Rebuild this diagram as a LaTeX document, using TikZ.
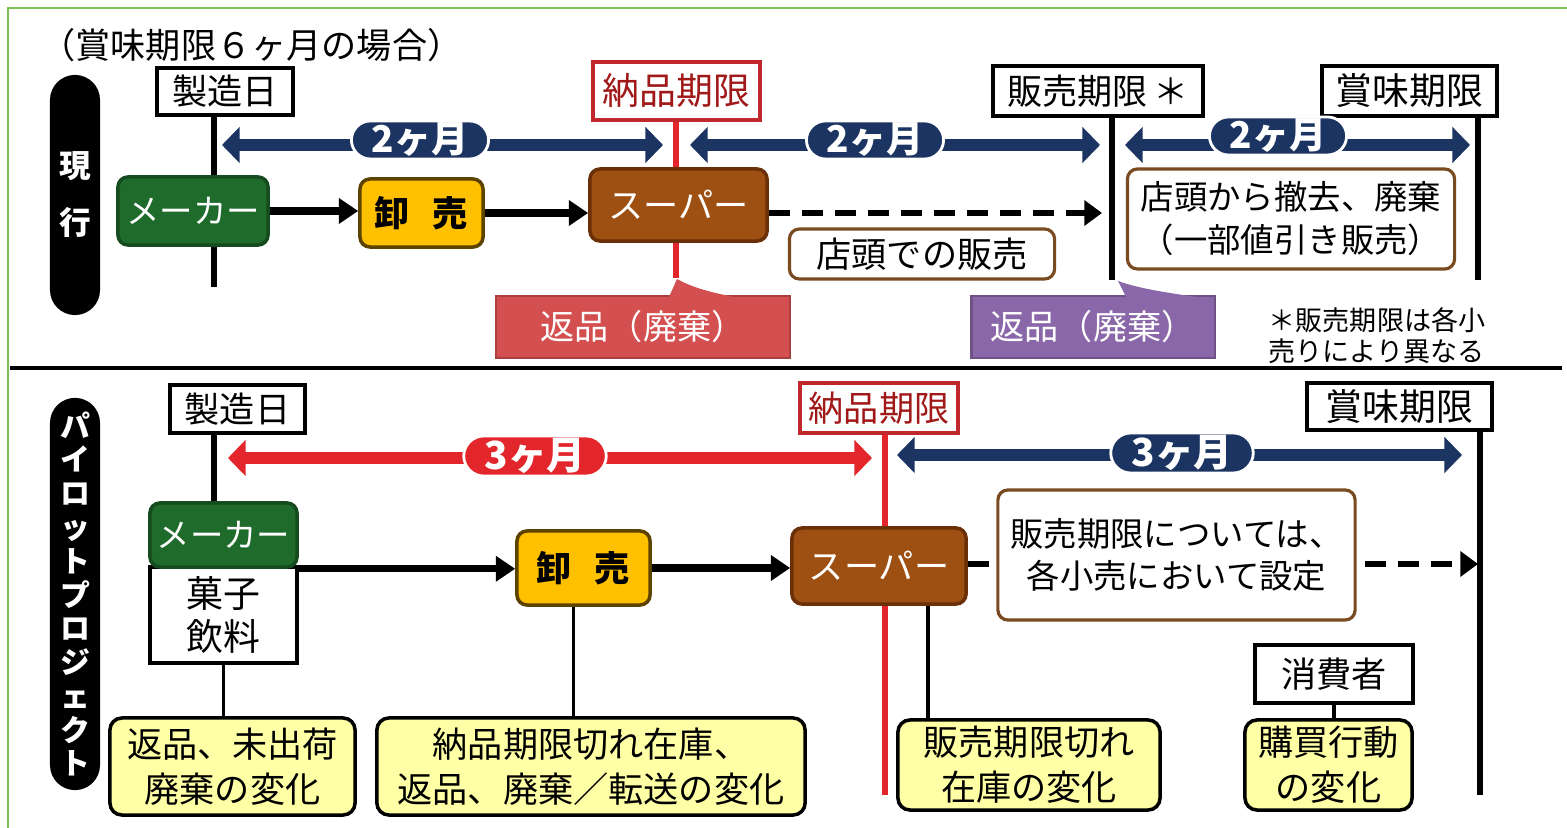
\documentclass[tikz,border=0pt]{standalone}
\usepackage{fontspec}
\setmainfont{Noto Sans CJK JP}
\usetikzlibrary{arrows.meta,shapes.misc}
\definecolor{navy}{HTML}{1B3461}
\definecolor{mgreen}{HTML}{1E6B2B}
\definecolor{myellow}{HTML}{FFC000}
\definecolor{ybord}{HTML}{5C4300}
\definecolor{mbrown}{HTML}{9E4F12}
\definecolor{bbord}{HTML}{6B3008}
\definecolor{lred}{HTML}{E3262B}
\definecolor{nred}{HTML}{C0282D}
\definecolor{ntext}{HTML}{A01818}
\definecolor{hred}{HTML}{D44F4F}
\definecolor{hpurple}{HTML}{8A67A8}
\definecolor{lyellow}{HTML}{FFFFA6}
\definecolor{frame}{HTML}{7CBF52}
\definecolor{sbord}{HTML}{7A4A20}
\begin{document}
\begin{tikzpicture}[x=0.01cm,y=-0.01cm,
  wh/.style 2 args={minimum width=#1cm, minimum height=#2cm},
  tl/.style={draw=black, line width=1.3pt, fill=white, inner sep=0pt, font=\fontsize{10}{12}\selectfont},
  tlred/.style={tl, draw=nred, text=ntext},
  tline/.style={line width=1.8pt},
  rline/.style={line width=1.8pt, draw=lred},
  pill/.style={fill=black, rounded corners=0.25cm, text=white, align=center, inner sep=0pt},
  mpill/.style={rounded rectangle, fill=navy, draw=white, line width=0.8pt, text=white,
     font=\bfseries\fontsize{10.5}{12}\selectfont, minimum height=0.38cm, inner xsep=0.1cm, inner ysep=0pt},
  span/.style={draw=navy, line width=3.4pt, {Triangle[width=10pt,length=5pt]}-{Triangle[width=10pt,length=5pt]}},
  flowbox/.style={rounded corners=0.1cm, line width=1pt, inner sep=0pt, font=\fontsize{9.5}{12}\selectfont},
  maker/.style={flowbox, fill=mgreen, draw=mgreen!70!black, text=white},
  oroshi/.style={flowbox, fill=myellow, draw=ybord, text=black, font=\bfseries\fontsize{10}{12}\selectfont},
  superbox/.style={flowbox, fill=mbrown, draw=bbord, text=white, font=\fontsize{10}{12}\selectfont},
  flow/.style={line width=2pt, -{Triangle[width=7pt,length=5.5pt]}},
  dflow/.style={line width=1.7pt, dash pattern=on 6pt off 3.4pt, -{Triangle[width=7pt,length=5pt]}},
  note/.style={rounded corners=0.1cm, draw=sbord, line width=0.9pt, fill=white, inner sep=0pt, align=center},
  ybox/.style={rounded corners=0.12cm, draw=black, line width=1pt, fill=lyellow, inner sep=0pt, align=center, font=\fontsize{10}{12.8}\selectfont},
  conn/.style={line width=0.9pt}
]
\useasboundingbox (0,0) rectangle (1567,828);
\fill[white] (0,0) rectangle (1567,828);
% frame
\coordinate (fr1) at (8,828); \coordinate (fr2) at (8,8); \coordinate (fr3) at (1567,8);
\draw[frame, line width=0.8pt] (fr1) -- (fr2) -- (fr3);

% ===== top section =====
\node[anchor=west, font=\fontsize{10}{11}\selectfont] (title) at (28,45) {（賞味期限６ヶ月の場合）};
\node[pill, wh={0.5}{2.4}, font=\bfseries\fontsize{9}{16.2}\selectfont] (pill1) at (75,195) {現\\行};

\node[tl, wh={1.36}{0.47}] (mfg1) at (225,91.5) {製造日};
\node[tlred, wh={1.67}{0.58}, font=\fontsize{10.5}{12}\selectfont] (nohin1) at (676.5,91) {納品期限};
\node[tl, wh={2.10}{0.50}] (han1) at (1098,91) {販売期限\,＊};
\node[tl, wh={1.75}{0.50}, font=\fontsize{10.5}{12}\selectfont] (shomi1) at (1409.5,91) {賞味期限};

\coordinate (t1) at (214,287);
\coordinate (t2) at (676,278);
\coordinate (t3) at (1112,280);
\coordinate (t4) at (1478,280);
\draw[tline] (mfg1.south -| t1) -- (t1);
\draw[rline] (nohin1.south -| t2) -- (t2);
\draw[tline] (han1.south -| t3) -- (t3);
\draw[tline] (shomi1.south -| t4) -- (t4);

\coordinate (a1l) at (222,145); \coordinate (a1r) at (663,145);
\coordinate (a2l) at (690,145); \coordinate (a2r) at (1100,145);
\coordinate (a3l) at (1125,145); \coordinate (a3r) at (1470,145);
\draw[span] (a1l) -- (a1r);
\draw[span] (a2l) -- (a2r);
\draw[span] (a3l) -- (a3r);
\node[mpill] (m1) at (420,140) {2ヶ月};
\node[mpill] (m2) at (875,140) {2ヶ月};
\node[mpill] (m3) at (1278,136) {2ヶ月};

\node[maker, wh={1.50}{0.68}] (maker1) at (193,211) {メーカー};
\node[oroshi, wh={1.23}{0.68}] (oroshi1) at (421.5,213) {卸\hspace{0.65em}売};
\node[superbox, wh={1.77}{0.72}] (super1) at (678.5,205) {スーパー};
\draw[flow] (maker1.east) -- (maker1.east -| oroshi1.west);
\draw[flow] (oroshi1.east) -- (oroshi1.east -| super1.west);
\coordinate (d1) at (1102,213);
\draw[dflow] (super1.east |- oroshi1.east) -- (d1);

\node[note, wh={2.65}{0.50}, font=\fontsize{10}{12}\selectfont] (tento) at (922,254) {店頭での販売};
\node[note, wh={3.27}{1.00}, font=\fontsize{9.5}{12.2}\selectfont] (tekkyo) at (1291,219) {店頭から撤去、廃棄\\（一部値引き販売）};

\node[fill=hred, draw=hred!80!black, line width=0.6pt, wh={2.93}{0.62}, text=white, inner sep=0pt, font=\fontsize{9.7}{12}\selectfont] (hen1) at (643,327) {返品（廃棄）};
\fill[hred] (669,297) -- (677,279) .. controls (695,289) and (715,293) .. (734,297) -- cycle;
\node[fill=hpurple, draw=hpurple!80!black, line width=0.6pt, wh={2.43}{0.62}, text=white, inner sep=0pt, font=\fontsize{9.7}{12}\selectfont] (hen2) at (1093,327) {返品（廃棄）};
\fill[hpurple] (1126,297) -- (1118,281) .. controls (1140,289) and (1170,293) .. (1196,297) -- cycle;

\node[anchor=north west, align=left, inner sep=0pt, font=\fontsize{7.7}{8.8}\selectfont] (fnote) at (1268,307) {＊販売期限は各小\\売りにより異なる};

\coordinate (sepl) at (10,368); \coordinate (sepr) at (1562,368);
\draw[line width=1.2pt] (sepl) -- (sepr);

% ===== bottom section =====
\node[pill, wh={0.5}{3.92}, font=\bfseries\fontsize{8.5}{9.6}\selectfont] (pill2) at (75,594)
  {パ\\イ\\ロ\\ッ\\ト\\プ\\ロ\\ジ\\ェ\\ク\\ト};

\node[tl, wh={1.35}{0.48}] (mfg2) at (237.5,409) {製造日};
\node[tlred, wh={1.58}{0.50}] (nohin2) at (879,408) {納品期限};
\node[tl, wh={1.85}{0.47}, font=\fontsize{10.5}{12}\selectfont] (shomi2) at (1399.5,406.5) {賞味期限};

\coordinate (t5) at (214,505);
\coordinate (t6) at (885,795);
\coordinate (t7) at (1480,795);
\draw[tline] (mfg2.south -| t5) -- (t5);
\draw[rline] (nohin2.south -| t6) -- (t6);
\draw[tline] (shomi2.south -| t7) -- (t7);

\coordinate (b1l) at (228,458); \coordinate (b1r) at (872,458);
\coordinate (b2l) at (897,455); \coordinate (b2r) at (1462,455);
\draw[span, draw=lred] (b1l) -- (b1r);
\draw[span] (b2l) -- (b2r);
\node[mpill, fill=lred, minimum height=0.40cm, font=\bfseries\fontsize{11}{12}\selectfont] (m4) at (535,456) {3ヶ月};
\node[mpill, minimum height=0.40cm, font=\bfseries\fontsize{11}{12}\selectfont] (m5) at (1182,453) {3ヶ月};

\node[draw=black, line width=1pt, fill=white, wh={1.47}{0.96}, inner sep=0pt, align=center, font=\fontsize{10.5}{12}\selectfont] (kashi) at (223.5,615) {菓子\\飲料};
\node[maker, wh={1.47}{0.64}] (maker2) at (223.5,535) {メーカー};
\node[oroshi, wh={1.33}{0.74}] (oroshi2) at (583.5,568) {卸\hspace{0.65em}売};
\node[superbox, wh={1.74}{0.76}] (super2) at (879,566) {スーパー};
\draw[flow] (maker2.south east) -- (maker2.south east -| oroshi2.west);
\draw[flow] (oroshi2.east) -- (oroshi2.east -| super2.west);
\coordinate (d2) at (1478,564);
\draw[dflow] (super2.east |- d2) -- (d2);
\node[note, wh={3.57}{1.30}, font=\fontsize{9.5}{12}\selectfont] (settei) at (1176.5,555) {販売期限については、\\各小売において設定};

\node[tl, line width=1.1pt, wh={1.58}{0.58}] (shohi) at (1334,674) {消費者};

\node[ybox, wh={2.45}{0.97}] (y1) at (232.5,766.5) {返品、未出荷\\廃棄の変化};
\node[ybox, wh={4.28}{0.97}] (y2) at (591,766.5) {納品期限切れ在庫、\\返品、廃棄／転送の変化};
\node[ybox, wh={2.62}{0.90}] (y3) at (1029,765) {販売期限切れ\\在庫の変化};
\node[ybox, wh={1.67}{0.90}] (y4) at (1328.5,765) {購買行動\\の変化};

\draw[conn] (kashi.south) -- (kashi.south |- y1.north);
\draw[conn] ([xshift=-0.1cm]oroshi2.south) -- ([xshift=-0.1cm]oroshi2.south |- y2.north);
\draw[conn] ([xshift=0.49cm]super2.south) -- ([xshift=0.49cm]super2.south |- y3.north);
\draw[conn] (shohi.south) -- (shohi.south |- y4.north);
\end{tikzpicture}
\end{document}
